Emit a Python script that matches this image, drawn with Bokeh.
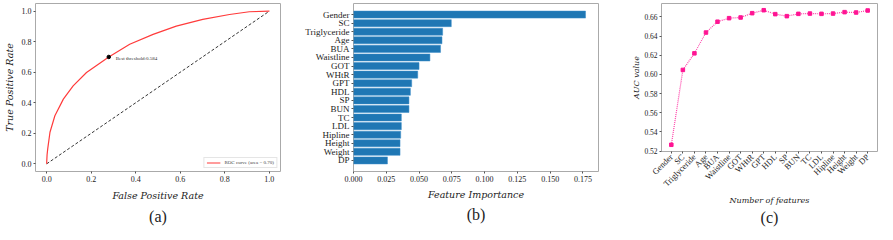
from math import pi
from bokeh.plotting import figure
from bokeh.layouts import row
from bokeh.models import Range1d, FixedTicker, Legend, LegendItem, Label, Title
from bokeh.embed import file_html
from bokeh.resources import INLINE

# ---------------- data ----------------
# (a) ROC curve
fpr = [0.0, 0.002, 0.005, 0.015, 0.037, 0.075, 0.119, 0.179, 0.279, 0.373, 0.478, 0.582, 0.701, 0.821, 0.91, 1.0]
tpr = [0.0, 0.06, 0.10, 0.207, 0.315, 0.424, 0.511, 0.598, 0.70, 0.783, 0.848, 0.902, 0.946, 0.978, 0.996, 1.0]
best_fpr = [0.279]
best_tpr = [0.70]
best_label = "Best threshold:0.584"
roc_label = "ROC curve (area = 0.70)"
diag = [0.0, 1.0]
unit_ticks = [0.0, 0.2, 0.4, 0.6, 0.8, 1.0]

# (b) feature importance (top to bottom)
features = ["Gender", "SC", "Triglyceride", "Age", "BUA", "Waistline", "GOT", "WHtR", "GPT",
            "HDL", "SP", "BUN", "TC", "LDL", "Hipline", "Height", "Weight", "DP"]
importance = [0.177, 0.0746, 0.068, 0.0675, 0.0664, 0.0583, 0.050, 0.049, 0.0444,
              0.0434, 0.0423, 0.0423, 0.0365, 0.0365, 0.036, 0.0355, 0.0355, 0.0259]
imp_ticks = [0.0, 0.025, 0.05, 0.075, 0.1, 0.125, 0.15, 0.175]

# (c) AUC vs number of features
auc = [0.5266, 0.6047, 0.622, 0.6437, 0.655, 0.6587, 0.6594, 0.6639, 0.667,
       0.6629, 0.6608, 0.6632, 0.6635, 0.6632, 0.6635, 0.665, 0.6646, 0.6667]
auc_ticks = [0.52, 0.54, 0.56, 0.58, 0.60, 0.62, 0.64, 0.66]

SERIF = "Liberation Serif"
ITALIC_SERIF = "DejaVu Serif"
FRAME = "#aaaaaa"


def style(p):
    p.outline_line_color = FRAME
    p.outline_line_width = 1
    p.grid.visible = False
    for ax in (p.xaxis[0], p.yaxis[0]):
        ax.axis_line_color = None
        ax.major_tick_in = 0
        ax.major_tick_out = 2
        ax.minor_tick_line_color = None
        ax.major_tick_line_color = "#555555"
        ax.major_label_text_font = SERIF
        ax.major_label_text_color = "#222222"
        ax.major_label_standoff = 2
        ax.axis_label_text_font = ITALIC_SERIF
        ax.axis_label_text_font_style = "italic"
        ax.axis_label_text_color = "#222222"
    p.background_fill_color = "white"
    p.border_fill_color = "white"


def caption(p, txt, standoff):
    t = Title(text=txt, align="center", text_font=SERIF, text_font_size="16px",
              text_font_style="normal", text_color="#222222", standoff=standoff, vertical_align="top")
    p.add_layout(t, "below")


# ---------------- (a) ----------------
pa = figure(frame_width=245, frame_height=168, x_range=Range1d(-0.05, 1.05), y_range=Range1d(-0.05, 1.05),
            output_backend="svg", toolbar_location=None,
            min_border_left=31, min_border_right=16, min_border_top=3, min_border_bottom=53)
style(pa)
pa.xaxis.ticker = FixedTicker(ticks=unit_ticks)
pa.yaxis.ticker = FixedTicker(ticks=unit_ticks)
pa.xaxis.major_label_overrides = {t: f"{t:.1f}" for t in unit_ticks}
pa.yaxis.major_label_overrides = {t: f"{t:.1f}" for t in unit_ticks}
pa.xaxis.major_label_text_font_size = "8px"
pa.yaxis.major_label_text_font_size = "8px"
pa.xaxis.axis_label = "False Positive Rate"
pa.yaxis.axis_label = "True Positive Rate"
pa.xaxis.axis_label_text_font_size = "9.5px"
pa.yaxis.axis_label_text_font_size = "9.5px"
pa.xaxis.axis_label_standoff = 5
pa.yaxis.axis_label_standoff = 4
pa.line(diag, diag, line_color="black", line_dash="3 2", line_width=0.8)
roc = pa.line(fpr, tpr, line_color="#ff3b3b", line_width=1.2)
pa.scatter(best_fpr, best_tpr, size=3.5, color="black")
pa.add_layout(Label(x=best_fpr[0], y=best_tpr[0], text=best_label, x_offset=7, y_offset=-2,
                    text_font_size="5px", text_font=SERIF, text_color="#333333", text_baseline="middle"))
leg = Legend(items=[LegendItem(label=roc_label, renderers=[roc])], location="bottom_right",
             label_text_font_size="5px", label_text_font=SERIF, glyph_height=5, glyph_width=14,
             label_height=5, padding=2, margin=3, spacing=0, border_line_color="#cccccc",
             label_standoff=4)
pa.add_layout(leg)
caption(pa, "(a)", 8)

# ---------------- (b) ----------------
n = len(features)
ypos = [n - 1 - i for i in range(n)]
pb = figure(frame_width=245, frame_height=168, x_range=Range1d(0, 0.1869), y_range=Range1d(-1.29, n - 1 + 1.29),
            output_backend="svg", toolbar_location=None,
            min_border_left=57, min_border_right=3, min_border_top=3, min_border_bottom=53)
style(pb)
pb.hbar(y=ypos, right=importance, left=0, height=0.82, fill_color="#1f77b4", line_color="#3a8cc8", line_width=0.5)
pb.xaxis.ticker = FixedTicker(ticks=imp_ticks)
pb.xaxis.major_label_overrides = {t: f"{t:.3f}" for t in imp_ticks}
pb.yaxis.ticker = FixedTicker(ticks=ypos)
pb.yaxis.major_label_overrides = {y: f for y, f in zip(ypos, features)}
pb.xaxis.major_label_text_font_size = "8px"
pb.yaxis.major_label_text_font_size = "9px"
pb.xaxis.axis_label = "Feature Importance"
pb.xaxis.axis_label_text_font_size = "9.5px"
pb.xaxis.axis_label_standoff = 4
caption(pb, "(b)", 6)

# ---------------- (c) ----------------
xc = list(range(n))
pc = figure(frame_width=216, frame_height=148, x_range=Range1d(-0.85, n - 1 + 0.85), y_range=Range1d(0.5196, 0.674),
            output_backend="svg", toolbar_location=None,
            min_border_left=60, min_border_right=4, min_border_top=3, min_border_bottom=30)
style(pc)
pc.line(xc, auc, line_color="#ff3fa8", line_dash="1 1", line_width=1.2)
pc.scatter(xc, auc, size=3.5, marker="square", color="#ff1493")
pc.xaxis.ticker = FixedTicker(ticks=xc)
pc.xaxis.major_label_overrides = {x: f for x, f in zip(xc, features)}
pc.xaxis.major_label_orientation = pi / 4
pc.yaxis.ticker = FixedTicker(ticks=auc_ticks)
pc.yaxis.major_label_overrides = {t: f"{t:.2f}" for t in auc_ticks}
pc.xaxis.major_label_text_font_size = "8.5px"
pc.yaxis.major_label_text_font_size = "7.5px"
pc.xaxis.axis_label = "Number of features"
pc.yaxis.axis_label = "AUC value"
pc.xaxis.axis_label_text_font_size = "8px"
pc.yaxis.axis_label_text_font_size = "8px"
pc.xaxis.axis_label_standoff = 1
pc.yaxis.axis_label_standoff = 0
caption(pc, "(c)", 0)

layout = row(pa, pb, pc)
open("out.html", "w").write(file_html(layout, INLINE))
